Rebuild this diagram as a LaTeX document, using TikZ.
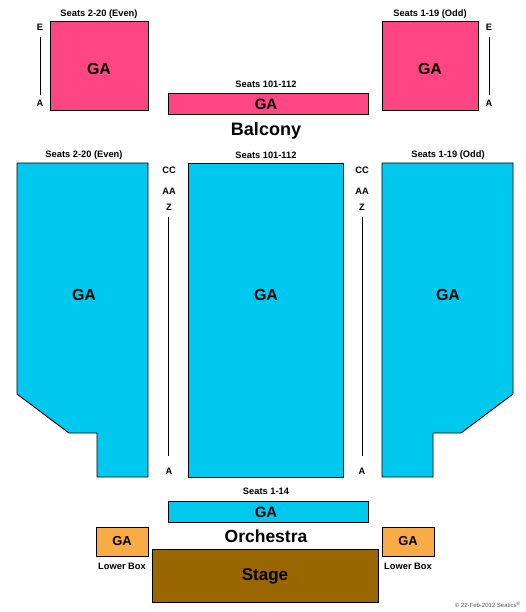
\documentclass[tikz,border=0pt]{standalone}
\usepackage{fontspec}
\setmainfont{Liberation Sans}
\begin{document}
\begin{tikzpicture}[x=1pt,y=-1pt,
  sec/.style={draw=black,line width=0.9pt},
  lbl/.style={font=\bfseries\fontsize{9.3}{10}\selectfont,inner sep=0pt},
  galbl/.style={font=\bfseries\fontsize{16}{18}\selectfont,inner sep=0pt},
  big/.style={font=\bfseries\fontsize{18}{20}\selectfont,inner sep=0pt},
  rowline/.style={line width=0.9pt}]
\definecolor{pinkc}{RGB}{255,70,132}
\definecolor{cyanc}{RGB}{0,200,238}
\definecolor{orangec}{RGB}{249,171,69}
\definecolor{brownc}{RGB}{153,102,0}
\useasboundingbox (0,0) rectangle (525,612);
% Balcony
\path[sec,fill=pinkc] (50,21) rectangle (148,110);
\node[galbl] (bl) at (99,69) {GA};
\node[lbl] (sbl) at (99,14) {Seats 2-20 (Even)};
\path[sec,fill=pinkc] (382,21) rectangle (478,110);
\node[galbl] (br) at (430,69) {GA};
\node[lbl] (sbr) at (430,14) {Seats 1-19 (Odd)};
\node[lbl] (e1) at (40,27) {E};
\node[lbl] (a1) at (40,103) {A};
\draw[rowline] (40,37) -- (40,95);
\node[lbl] (e2) at (489,27) {E};
\node[lbl] (a2) at (489,103) {A};
\draw[rowline] (489,37) -- (489,95);
\path[sec,fill=pinkc] (168,93) rectangle (368,114);
\node[font=\bfseries\fontsize{15}{17}\selectfont,inner sep=0pt] (bc) at (266,104) {GA};
\node[lbl] (sbc) at (266,84) {Seats 101-112};
\node[big] (balc) at (266,131) {Balcony};
% Orchestra
\node[lbl] (sol) at (84,155) {Seats 2-20 (Even)};
\node[lbl] (soc) at (266,155) {Seats 101-112};
\node[lbl] (sor) at (448,155) {Seats 1-19 (Odd)};
\path[sec,fill=cyanc] (17,163) -- (148,163) -- (148,477) -- (97,477) -- (97,433) -- (69,433) -- (17,394) -- cycle;
\node[galbl] (ol) at (84,295) {GA};
\path[sec,fill=cyanc] (188,163) rectangle (343,477);
\node[galbl] (oc) at (266,295) {GA};
\path[sec,fill=cyanc] (382,163) -- (513,163) -- (513,394) -- (461,433) -- (433,433) -- (433,477) -- (382,477) -- cycle;
\node[galbl] (or) at (448,295) {GA};
\node[lbl] (cc1) at (169,170) {CC};
\node[lbl] (aa1) at (169,191) {AA};
\node[lbl] (z1) at (169,207) {Z};
\node[lbl] (ra1) at (169,471) {A};
\draw[rowline] (168,217) -- (168,456);
\node[lbl] (cc2) at (362,170) {CC};
\node[lbl] (aa2) at (362,191) {AA};
\node[lbl] (z2) at (362,207) {Z};
\node[lbl] (ra2) at (362,471) {A};
\draw[rowline] (362,217) -- (362,456);
% Front
\node[lbl] (s14) at (266,491) {Seats 1-14};
\path[sec,fill=cyanc] (168,501) rectangle (368,522);
\node[font=\bfseries\fontsize{15}{17}\selectfont,inner sep=0pt] (fc) at (266,512) {GA};
\node[font=\bfseries\fontsize{17.5}{20}\selectfont,inner sep=0pt] (orch) at (266,536) {Orchestra};
\path[sec,fill=orangec] (96,527) rectangle (148,556);
\node[font=\bfseries\fontsize{13}{15}\selectfont,inner sep=0pt] (lbx1) at (122,541.5) {GA};
\node[lbl] (lb1) at (122,566) {Lower Box};
\path[sec,fill=orangec] (382,527) rectangle (434,556);
\node[font=\bfseries\fontsize{13}{15}\selectfont,inner sep=0pt] (lbx2) at (408,541.5) {GA};
\node[lbl] (lb2) at (408,566) {Lower Box};
\path[sec,fill=brownc] (152,549) rectangle (378,602);
\node[font=\bfseries\fontsize{17}{19}\selectfont,inner sep=0pt] (stage) at (265,576) {Stage};
\node[font=\fontsize{6}{7}\selectfont,text=black!65,inner sep=0pt,anchor=east] (copy) at (521,605) {© 22-Feb-2012 Seatics\textsuperscript{®}};
\end{tikzpicture}
\end{document}
